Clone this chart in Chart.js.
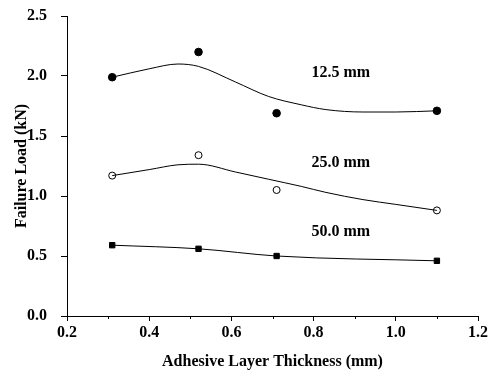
<!DOCTYPE html>
<html>
<head>
<meta charset="utf-8">
<script src="https://cdn.jsdelivr.net/npm/chart.js@4.4.0/dist/chart.umd.min.js"></script>
<style>
  html, body { margin: 0; padding: 0; background: #fff; }
  #wrap { width: 493px; height: 371px; }
</style>
</head>
<body>
<div id="wrap"><canvas id="chart"></canvas></div>
<script>
// measured points (adhesive thickness in mm, failure load in kN)
var thickness = [0.31, 0.52, 0.71, 1.10];
var load125 = [1.99, 2.20, 1.69, 1.71];
var load250 = [1.17, 1.34, 1.05, 0.88];
var load500 = [0.59, 0.56, 0.50, 0.46];

// fitted curves
var fitX = [0.31, 0.40, 0.47, 0.52, 0.61, 0.69, 0.77, 0.83, 0.92, 1.00, 1.10];
var fit125 = [1.99, 2.06, 2.10, 2.08, 1.95, 1.83, 1.76, 1.72, 1.70, 1.70, 1.71];
var fit250 = [1.17, 1.22, 1.26, 1.265, 1.20, 1.14, 1.08, 1.03, 0.97, 0.93, 0.88];
var fit500 = [0.59, 0.56, 0.50, 0.46];

var seriesNames = ["12.5 mm", "25.0 mm", "50.0 mm"];

var serif = "'Liberation Serif', 'Times New Roman', serif";

function pts(xs, ys) {
  return xs.map(function (x, i) { return {x: x, y: ys[i]}; });
}

// where the series names sit (data units)
var nameX = 0.866;
var nameY = [2.03, 1.28, 0.70];

var extras = {
  id: "extras",
  afterDraw: function (chart) {
    var ctx = chart.ctx;
    var xs = chart.scales.x, ys = chart.scales.y;
    ctx.save();
    // minor ticks on x axis
    ctx.strokeStyle = "#000";
    ctx.lineWidth = 1;
    for (var v = 0.3; v < 1.2; v += 0.2) {
      var px = Math.round(xs.getPixelForValue(v)) + 0.5;
      ctx.beginPath();
      ctx.moveTo(px, ys.bottom);
      ctx.lineTo(px, ys.bottom + 3);
      ctx.stroke();
    }
    ctx.fillStyle = "#000";
    ctx.font = "bold 16px " + serif;
    ctx.textAlign = "center";
    ctx.textBaseline = "middle";
    seriesNames.forEach(function (n, i) {
      ctx.fillText(n, xs.getPixelForValue(nameX), ys.getPixelForValue(nameY[i]));
    });
    ctx.restore();
  }
};

new Chart(document.getElementById("chart"), {
  type: "scatter",
  data: {
    datasets: [
      { data: pts(fitX, fit125), showLine: true, borderColor: "#000", borderWidth: 1,
        pointRadius: 0, cubicInterpolationMode: "monotone" },
      { data: pts(fitX, fit250), showLine: true, borderColor: "#000", borderWidth: 1,
        pointRadius: 0, cubicInterpolationMode: "monotone" },
      { data: pts(thickness, fit500), showLine: true, borderColor: "#000", borderWidth: 1,
        pointRadius: 0, cubicInterpolationMode: "monotone" },
      { label: seriesNames[0], data: pts(thickness, load125), pointStyle: "circle",
        pointRadius: 3.8, backgroundColor: "#000", borderColor: "#000", borderWidth: 1 },
      { label: seriesNames[1], data: pts(thickness, load250), pointStyle: "circle",
        pointRadius: 3.5, backgroundColor: "#fff", borderColor: "#000", borderWidth: 1 },
      { label: seriesNames[2], data: pts(thickness, load500), pointStyle: "rect",
        pointRadius: 3.8, backgroundColor: "#000", borderColor: "#000", borderWidth: 1 }
    ]
  },
  options: {
    responsive: true,
    maintainAspectRatio: false,
    animation: false,
    layout: { padding: { top: 16, right: 15, left: 0, bottom: 0 } },
    plugins: { legend: { display: false }, tooltip: { enabled: false } },
    scales: {
      x: {
        type: "linear", min: 0.2, max: 1.2,
        border: { display: true, color: "#000", width: 1 },
        grid: { drawOnChartArea: false, drawTicks: true, tickLength: 5, color: "#000" },
        ticks: { stepSize: 0.2, color: "#000", padding: 2,
          font: { family: serif, size: 16, weight: "bold" },
          callback: function (v) { return v.toFixed(1); } },
        title: { display: true, text: "Adhesive Layer Thickness (mm)", color: "#000",
          font: { family: serif, size: 16, weight: "bold" }, padding: { top: 4, bottom: 0 } },
        afterFit: function (s) { s.height = 55; }
      },
      y: {
        min: 0, max: 2.5,
        border: { display: true, color: "#000", width: 1 },
        grid: { drawOnChartArea: false, drawTicks: true, tickLength: 6, color: "#000" },
        ticks: { stepSize: 0.5, color: "#000", padding: 14,
          font: { family: serif, size: 16, weight: "bold" },
          callback: function (v) { return v.toFixed(1); } },
        title: { display: true, text: "Failure Load (kN)", color: "#000",
          font: { family: serif, size: 16, weight: "bold" }, padding: { top: 12, bottom: 0 } },
        afterFit: function (s) { s.width = 67; s.paddingTop = 0; s.paddingBottom = 0; }
      }
    }
  },
  plugins: [extras]
});
</script>
</body>
</html>
